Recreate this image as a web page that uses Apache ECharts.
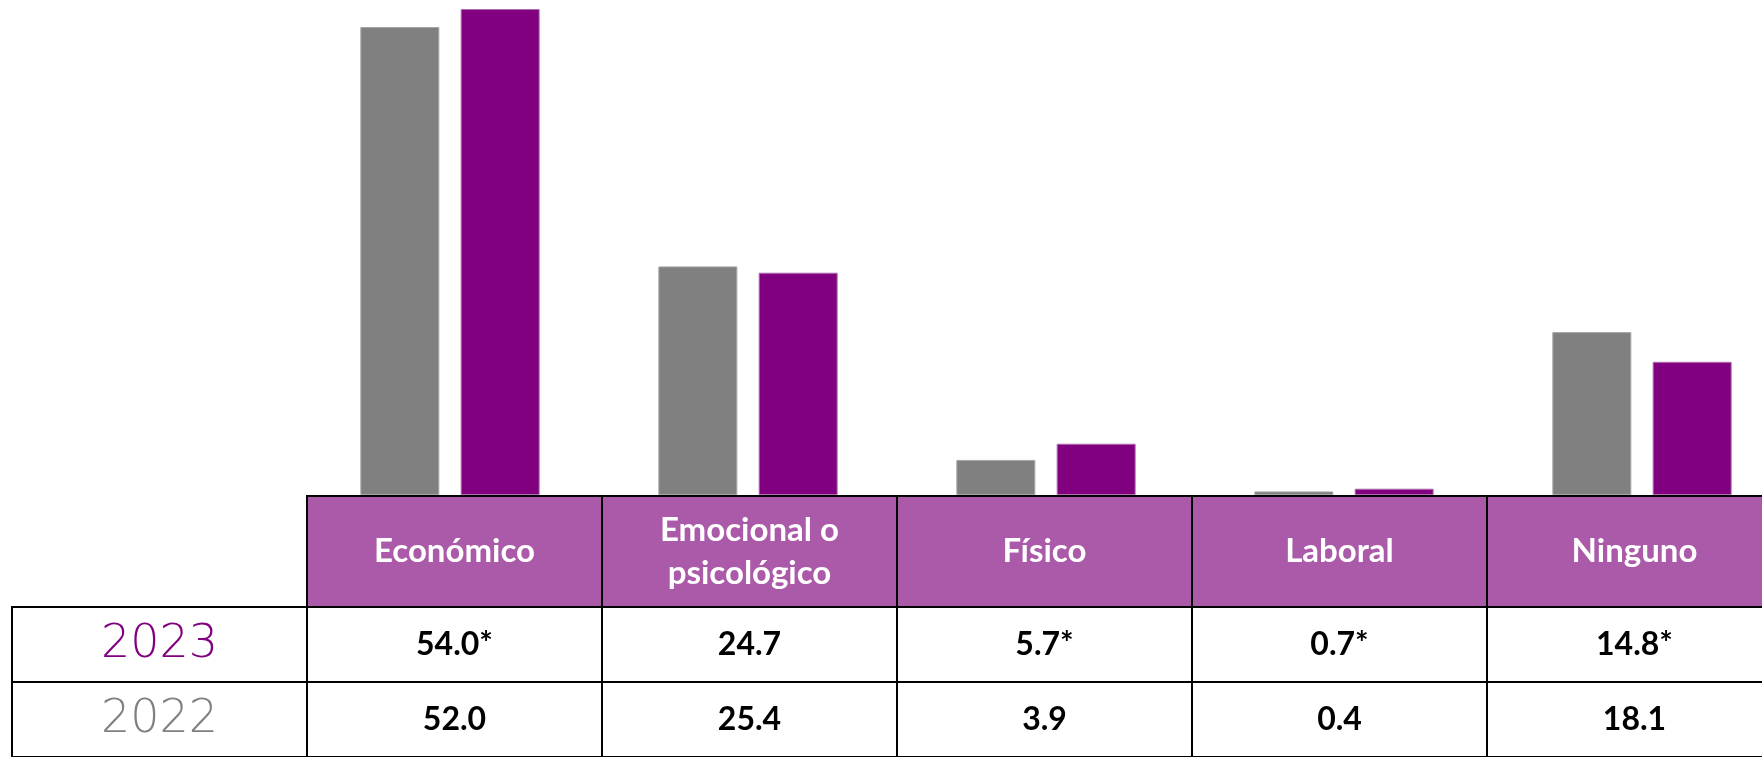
<!DOCTYPE html>
<html>
<head>
<meta charset="utf-8">
<script src="https://cdn.jsdelivr.net/npm/echarts@6/dist/echarts.min.js"></script>
<style>
html,body{margin:0;padding:0;background:#fff;}
#main{width:1762px;height:757px;}
</style>
</head>
<body>
<div id="main"></div>
<script>
// ---- data ----
const categories = ['Económico', 'Emocional o\npsicológico', 'Físico', 'Laboral', 'Ninguno'];
const years = ['2023', '2022'];
const values2022 = [52.0, 25.4, 3.9, 0.4, 18.1];
const values2023 = [54.0, 24.7, 5.7, 0.7, 14.8];
const significant2023 = [true, false, true, true, true];

// ---- style / layout ----
const GRAY = '#808080';
const PURPLE = '#800080';
const HEAD_FILL = '#AB5AA9';
const FONT = 'Lato, "Open Sans", sans-serif';
const YEAR_FONT = '"DejaVu Sans", Lato, sans-serif';

const chart = echarts.init(document.getElementById('main'));
chart.setOption({
  animation: false,
  backgroundColor: '#ffffff',
  grid: { left: 301, width: 1490, top: 0, height: 495, containLabel: false, outerBoundsMode: 'none' },
  xAxis: {
    type: 'category',
    data: categories,
    axisLine: { show: false },
    axisTick: { show: false },
    axisLabel: { show: false },
    splitLine: { show: false }
  },
  yAxis: {
    type: 'value',
    min: 0,
    max: 55,
    show: false,
    splitLine: { show: false }
  },
  series: [
    {
      name: years[1], type: 'bar', data: values2022, barWidth: 79, barGap: '27%',
      itemStyle: { color: GRAY, borderColor: '#a6a6a6', borderWidth: 1 }
    },
    {
      name: years[0], type: 'bar', data: values2023, barWidth: 79, barGap: '27%',
      itemStyle: { color: PURPLE, borderColor: '#b070b0', borderWidth: 1 }
    }
  ]
});

// ---- table under the chart ----
const TABLE_LEFT = 307, COL_W = 295, LABEL_LEFT = 12;
const HEAD_TOP = 496, HEAD_H = 111, ROW_H = 75;
const rowsData = [
  { label: years[0], color: PURPLE, vals: values2023.map((v, i) => v.toFixed(1) + (significant2023[i] ? '*' : '')) },
  { label: years[1], color: GRAY, vals: values2022.map(v => v.toFixed(1)) }
];

const g = [];
categories.forEach((c, i) => {
  const x = TABLE_LEFT + COL_W * i;
  g.push({ type: 'rect', z: 10, shape: { x: x, y: HEAD_TOP, width: COL_W, height: HEAD_H },
    style: { fill: HEAD_FILL, stroke: '#000', lineWidth: 2 } });
  g.push({ type: 'text', z: 11, x: x + COL_W / 2, y: HEAD_TOP + HEAD_H / 2,
    style: { text: c, fill: '#fff', fontFamily: FONT, fontWeight: 'bold', fontSize: 33,
      lineHeight: 43, align: 'center', verticalAlign: 'middle' } });
});
rowsData.forEach((r, ri) => {
  const y = HEAD_TOP + HEAD_H + ROW_H * ri;
  g.push({ type: 'rect', z: 10, shape: { x: LABEL_LEFT, y: y, width: TABLE_LEFT - LABEL_LEFT, height: ROW_H },
    style: { fill: '#fff', stroke: '#000', lineWidth: 2 } });
  g.push({ type: 'text', z: 11, x: (LABEL_LEFT + TABLE_LEFT) / 2, y: y + ROW_H / 2 + 1,
    style: { text: r.label, fill: r.color, fontFamily: YEAR_FONT, fontWeight: 200, fontSize: 46,
      align: 'center', verticalAlign: 'middle' } });
  r.vals.forEach((v, i) => {
    const x = TABLE_LEFT + COL_W * i;
    g.push({ type: 'rect', z: 10, shape: { x: x, y: y, width: COL_W, height: ROW_H },
      style: { fill: '#fff', stroke: '#000', lineWidth: 2 } });
    g.push({ type: 'text', z: 11, x: x + COL_W / 2, y: y + ROW_H / 2,
      style: { text: v, fill: '#000', fontFamily: FONT, fontWeight: 'bold', fontSize: 32,
        align: 'center', verticalAlign: 'middle' } });
  });
});
chart.setOption({ graphic: g });
</script>
</body>
</html>
